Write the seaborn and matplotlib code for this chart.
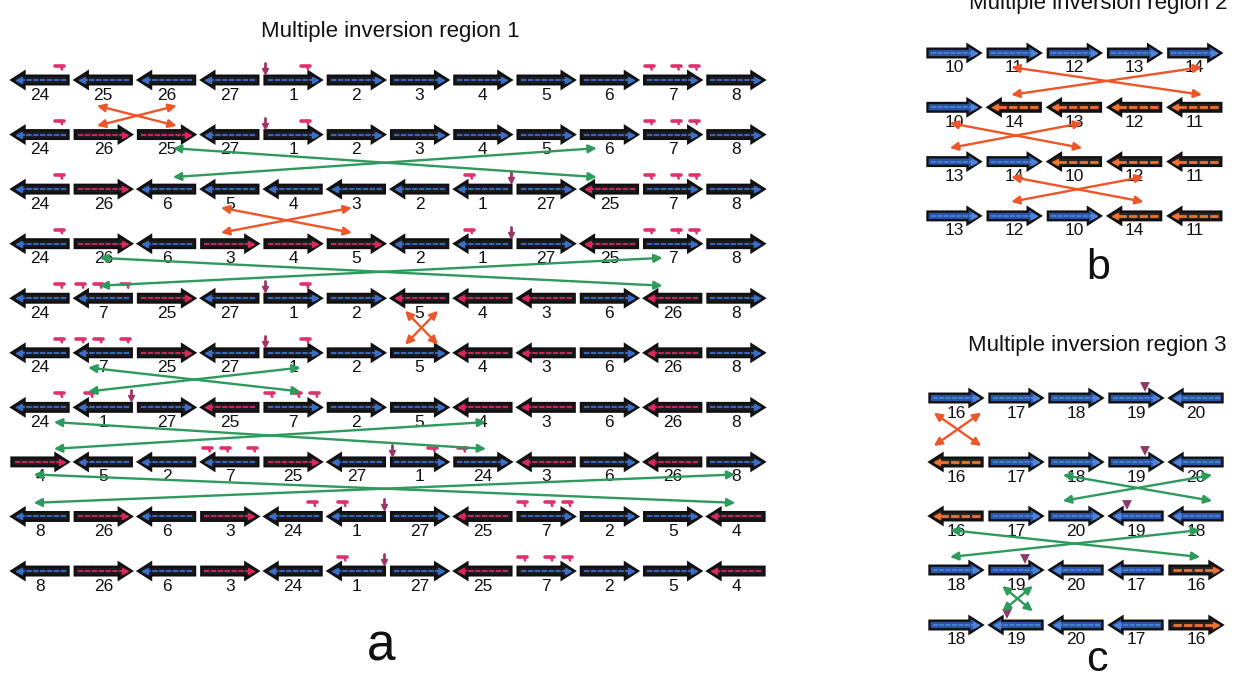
import matplotlib
matplotlib.use('Agg')
import matplotlib.pyplot as plt
from matplotlib.patches import Polygon
import pandas as pd
import seaborn as sns

sns.set_theme(style='white')
plt.rcParams['font.family'] = ['Liberation Sans', 'DejaVu Sans']

# gene order at every step, token = gene + direction ('>' / '<'), '*' = drawn in the inverted colour
rows_a = [
  ['24<', '25<', '26<', '27<', '1>', '2>', '3>', '4>', '5>', '6>', '7>', '8>'],
  ['24<', '26>*', '25>*', '27<', '1>', '2>', '3>', '4>', '5>', '6>', '7>', '8>'],
  ['24<', '26>*', '6<', '5<', '4<', '3<', '2<', '1<', '27>', '25<*', '7>', '8>'],
  ['24<', '26>*', '6<', '3>*', '4>*', '5>*', '2<', '1<', '27>', '25<*', '7>', '8>'],
  ['24<', '7<', '25>*', '27<', '1>', '2>', '5<*', '4<*', '3<*', '6>', '26<*', '8>'],
  ['24<', '7<', '25>*', '27<', '1>', '2>', '5>', '4<*', '3<*', '6>', '26<*', '8>'],
  ['24<', '1<', '27>', '25<*', '7>', '2>', '5>', '4<*', '3<*', '6>', '26<*', '8>'],
  ['4>*', '5<', '2<', '7<', '25>*', '27<', '1>', '24>', '3<*', '6>', '26<*', '8>'],
  ['8<', '26>*', '6<', '3>*', '24<', '1<', '27>', '25<*', '7>', '2>', '5>', '4<*'],
  ['8<', '26>*', '6<', '3>*', '24<', '1<', '27>', '25<*', '7>', '2>', '5>', '4<*'],
]
rows_b = [
  ['10>', '11>', '12>', '13>', '14>'],
  ['10>', '14<*', '13<*', '12<*', '11<*'],
  ['13>', '14>', '10<*', '12<*', '11<*'],
  ['13>', '12>', '10>', '14<*', '11<*'],
]
rows_c = [
  ['16>', '17>', '18>', '19>', '20<'],
  ['16<*', '17>', '18>', '19>', '20<'],
  ['16<*', '17>', '20>', '19<', '18<'],
  ['18>', '19>', '20<', '17<', '16>*'],
  ['18>', '19<', '20<', '17<', '16>*'],
]

# inversion crosses: (upper row, column from, column to, frac y start, frac y end, colour)
crosses_a = [
  (0, 0.90, 2.16, 0.47, 0.84, 'o'),
  (1, 2.10, 8.80, 0.25, 0.78, 'g'),
  (2, 2.86, 4.93, 0.34, 0.80, 'o'),
  (3, 0.94, 9.84, 0.26, 0.77, 'g'),
  (4, 5.77, 6.29, 0.23, 0.85, 'o'),
  (5, 0.76, 4.12, 0.27, 0.71, 'g'),
  (6, 0.22, 7.05, 0.27, 0.76, 'g'),
  (7, -0.10, 10.99, 0.23, 0.75, 'g'),
]
crosses_b = [
  (0, 0.95, 4.12, 0.26, 0.77, 'o'),
  (1, -0.07, 2.13, 0.29, 0.75, 'o'),
  (2, 0.95, 3.15, 0.28, 0.74, 'o'),
]
crosses_c = [
  (0, -0.37, 0.42, 0.23, 0.75, 'o'),
  (1, 1.78, 4.27, 0.24, 0.72, 'g'),
  (2, -0.10, 4.07, 0.26, 0.76, 'g'),
  (3, 0.77, 1.28, 0.29, 0.75, 'g'),
]

# small marks above genes: offset along the gene direction (px), kind
marks_a = {'24': [(-20, 'pink')], '1': [(-28, 'purple'), (13, 'pink')],
           '7': [(-23, 'pink'), (4, 'pink'), (22, 'pink')]}
marks_c = {'19': [(9, 'tri')]}
no_mark_rows_a = {9: ['24']}

cross_col = {'o': '#ee5529', 'g': '#2e9a5c'}
pink, purple = '#e0306a', '#9c3566'

fig = plt.figure(figsize=(12.42, 6.83), dpi=100)
ax = fig.add_axes([0, 0, 1, 1])
ax.set_xlim(0, 1242)
ax.set_ylim(683, 0)
ax.axis('off')


def draw_gene(x, y, d, L, fill, inner, lw_in):
  s = 1 if d == '>' else -1
  tail, tip = x - s * L / 2, x + s * L / 2
  neck = tip - s * 13
  sh, hh = 4.3, 8.3
  pts = [(tail, y - sh), (neck, y - sh), (neck, y - hh), (tip, y),
         (neck, y + hh), (neck, y + sh), (tail, y + sh)]
  ax.add_patch(Polygon(pts, closed=True, fc=fill, ec='#101010', lw=1.7, joinstyle='miter', zorder=2))
  ax.plot([tail + s * 3, tip - s * 7], [y, y], color=inner, lw=lw_in, ls=(0, (3, 0.8)), zorder=3)
  ax.plot(tip - s * 7, y, marker='>' if s > 0 else '<', ms=3.8, color=inner, mec=inner, zorder=3)


def draw_panel(rows, x0, dx, ys, L, style, marks, skip, crosses):
  tri = []
  for j, row in enumerate(rows):
    y = ys[j]
    for i, tok in enumerate(row):
      x = x0 + dx * i
      red = tok.endswith('*')
      tok = tok.rstrip('*')
      name, d = tok[:-1], tok[-1]
      s = 1 if d == '>' else -1
      if style == 'a':
        inner = '#d9285a' if red else '#3d6fc9'
        draw_gene(x, y, d, L, '#1b1b22', inner, 1.3)
      else:
        if red:
          draw_gene(x, y, d, L, '#2a2420', '#f07232', 2.0)
        else:
          draw_gene(x, y, d, L, '#2a55a6', '#4f84d8', 1.2)
      ax.text(x, y + 15, name, ha='center', va='center', fontsize=12.5, color='#111111', zorder=4)
      if name in marks and name not in skip.get(j, []):
        for off, kind in marks[name]:
          mx = x + s * off
          if kind == 'pink':
            ax.plot([mx - 5, mx + 4], [y - 14, y - 14], color=pink, lw=2.6, solid_capstyle='round', zorder=3)
            ax.plot([mx + 1, mx + 2], [y - 14, y - 10.5], color=pink, lw=1.8, zorder=3)
          elif kind == 'purple':
            ax.plot([mx, mx], [y - 17, y - 9], color=purple, lw=2.0, zorder=3)
            ax.plot(mx, y - 9, marker='v', ms=4, color=purple, zorder=3)
          else:
            tri.append((mx, y - 11))
  if tri:
    df = pd.DataFrame(tri, columns=['x', 'y'])
    sns.scatterplot(data=df, x='x', y='y', marker='v', s=50, color='#8e3a68', edgecolor='none', ax=ax, zorder=4)
  for j, c0, c1, fa, fb, col in crosses:
    ya = ys[j] + fa * (ys[j + 1] - ys[j])
    yb = ys[j] + fb * (ys[j + 1] - ys[j])
    xa, xb = x0 + dx * c0, x0 + dx * c1
    for p, q in [((xa, ya), (xb, yb)), ((xa, yb), (xb, ya))]:
      ax.annotate('', xy=q, xytext=p, zorder=5,
                  arrowprops=dict(arrowstyle='<|-|>', color=cross_col[col], lw=1.7,
                                  mutation_scale=12, shrinkA=0, shrinkB=0))


ys_a = [80 + 54.56 * j for j in range(len(rows_a))]
ys_b = [53 + 54.3 * j for j in range(len(rows_b))]
ys_c = [398, 462, 516, 570, 625]

draw_panel(rows_a, 40, 63.27, ys_a, 57, 'a', marks_a, no_mark_rows_a, crosses_a)
draw_panel(rows_b, 954, 60.2, ys_b, 53, 'b', {}, {}, crosses_b)
draw_panel(rows_c, 956, 60.0, ys_c, 53, 'c', marks_c, {}, crosses_c)

ax.text(390, 32, 'Multiple inversion region 1', ha='center', va='center', fontsize=16, color='#111111')
ax.text(1098, 9, 'Multiple inversion region 2', ha='center', va='baseline', fontsize=16, color='#111111')
ax.text(1097, 345, 'Multiple inversion region 3', ha='center', va='center', fontsize=16, color='#111111')
ax.text(381, 647, 'a', ha='center', va='center', fontsize=37, color='#111111')
ax.text(1098, 268, 'b', ha='center', va='center', fontsize=31, color='#111111')
ax.text(1097, 660, 'c', ha='center', va='center', fontsize=31, color='#111111')

fig.savefig('out.png', dpi=100)
